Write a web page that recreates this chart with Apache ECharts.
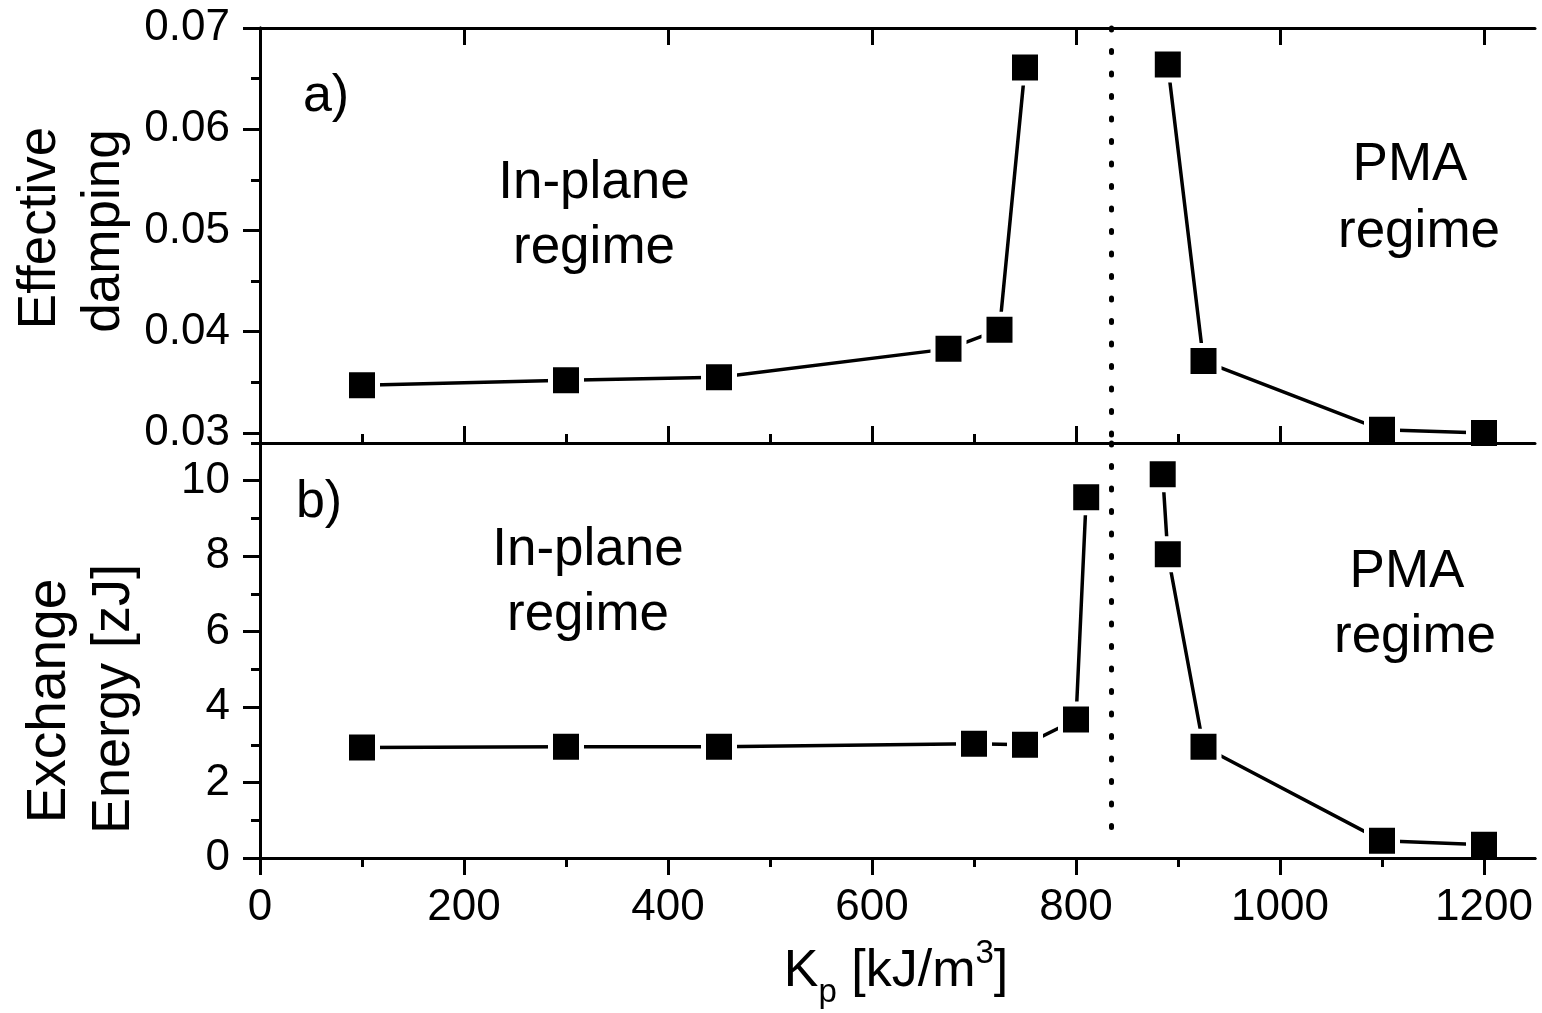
<!DOCTYPE html>
<html>
<head>
<meta charset="utf-8">
<script src="https://cdn.jsdelivr.net/npm/echarts@6/dist/echarts.min.js"></script>
<style>
  html, body { margin: 0; padding: 0; background: #fff; }
  #chart { width: 1542px; height: 1013px; }
</style>
</head>
<body>
<div id="chart"></div>
<script>
// ---- data ----
const kpDamping = [100, 300, 450, 675, 725, 750, 890, 925, 1100, 1200];
const damping   = [0.0347, 0.0352, 0.0355, 0.0383, 0.0402, 0.0661, 0.0664, 0.0371, 0.0303, 0.0300];
const kpEnergy  = [100, 300, 450, 700, 750, 800, 810, 885, 890, 925, 1100, 1200];
const energy    = [2.93, 2.95, 2.95, 3.03, 3.00, 3.67, 9.56, 10.17, 8.05, 2.95, 0.46, 0.35];
const transitionKp = 835;

const xMajorTicks = [0, 200, 400, 600, 800, 1000, 1200];
const xMinorTicks = [100, 300, 500, 700, 900, 1100];
const dampTicks   = [0.03, 0.04, 0.05, 0.06, 0.07];
const dampMinor   = [0.035, 0.045, 0.055, 0.065];
const energyTicks = [0, 2, 4, 6, 8, 10];
const energyMinor = [1, 3, 5, 7, 9, 11];

const FONT = '"Liberation Sans", Arial, sans-serif';

function pairs(xs, ys, left) {
  const out = [];
  xs.forEach((x, i) => {
    if ((x < transitionKp) === left) out.push([x, ys[i]]);
  });
  return out;
}

const LW = 3;
const lineStyleAxis = { color: '#000', width: LW };

function xAxisDef(grid, pos, ticks, inside, len, showLine, labels) {
  return {
    type: 'value', gridIndex: grid, position: pos, min: 0, max: 1250, z: 10,
    axisLine: { show: showLine, lineStyle: lineStyleAxis },
    axisTick: { show: true, inside: inside, length: len, lineStyle: lineStyleAxis, customValues: ticks },
    axisLabel: labels ? {
      show: true, customValues: ticks, margin: 28, color: '#000',
      fontFamily: FONT, fontSize: 44, formatter: v => String(v)
    } : { show: false },
    splitLine: { show: false }
  };
}
function yAxisDef(grid, pos, min, max, ticks, inside, len, showLine, labels, fmt) {
  return {
    type: 'value', gridIndex: grid, position: pos, min: min, max: max, z: 10,
    axisLine: { show: showLine, lineStyle: lineStyleAxis },
    axisTick: { show: true, inside: inside, length: len, lineStyle: lineStyleAxis, customValues: ticks },
    axisLabel: labels ? {
      show: true, customValues: ticks, margin: 30, color: '#000',
      fontFamily: FONT, fontSize: 44, formatter: fmt
    } : { show: false },
    splitLine: { show: false }
  };
}

const markerStyle = {
  type: 'line', symbol: 'rect', symbolSize: 31,
  itemStyle: { color: '#000', borderColor: '#fff', borderWidth: 5 },
  lineStyle: { color: '#000', width: 3.5 },
  emphasis: { disabled: true }, z: 3
};

function dotted(yTop, yBottom) {
  return {
    silent: true, symbol: ['none', 'none'], label: { show: false },
    lineStyle: { color: '#000', width: 5, type: [2, 20.5], cap: 'round' },
    data: [[{ coord: [transitionKp, yTop] }, { coord: [transitionKp, yBottom] }]]
  };
}

function txt(x, y, text, size, extra) {
  return Object.assign({
    type: 'text', x: x, y: y, z: 50,
    style: { text: text, fill: '#000', font: size + 'px ' + FONT, align: 'center', verticalAlign: 'middle' }
  }, extra || {});
}

const chart = echarts.init(document.getElementById('chart'), null, { renderer: 'canvas' });
chart.setOption({
  animation: false,
  backgroundColor: '#fff',
  grid: [
    { left: 260, right: 7, top: 28, height: 415 },
    { left: 260, right: 7, top: 443, height: 415 }
  ],
  xAxis: [
    xAxisDef(0, 'bottom', xMajorTicks, true, 17, true, false),
    xAxisDef(0, 'bottom', xMinorTicks, true, 9, false, false),
    xAxisDef(0, 'top', xMajorTicks, true, 17, true, false),
    xAxisDef(1, 'bottom', xMajorTicks, false, 17, true, true),
    xAxisDef(1, 'bottom', xMinorTicks, false, 9, false, false),
    xAxisDef(1, 'top', xMajorTicks, true, 17, true, false)
  ],
  yAxis: [
    yAxisDef(0, 'left', 0.029, 0.07, dampTicks, false, 17, true, true, v => v.toFixed(2)),
    yAxisDef(0, 'left', 0.029, 0.07, dampMinor, false, 9, false, false),
    yAxisDef(0, 'right', 0.029, 0.07, dampTicks, true, 17, true, false),
    yAxisDef(1, 'left', 0, 11, energyTicks, false, 17, true, true, v => String(Math.round(v))),
    yAxisDef(1, 'left', 0, 11, energyMinor, false, 9, false, false),
    yAxisDef(1, 'right', 0, 11, energyTicks, true, 17, true, false)
  ],
  series: [
    Object.assign({}, markerStyle, { xAxisIndex: 0, yAxisIndex: 0, data: pairs(kpDamping, damping, true),
      markLine: dotted(0.07, 0.029) }),
    Object.assign({}, markerStyle, { xAxisIndex: 0, yAxisIndex: 0, data: pairs(kpDamping, damping, false) }),
    Object.assign({}, markerStyle, { xAxisIndex: 3, yAxisIndex: 3, data: pairs(kpEnergy, energy, true),
      markLine: dotted(11, 0.5) }),
    Object.assign({}, markerStyle, { xAxisIndex: 3, yAxisIndex: 3, data: pairs(kpEnergy, energy, false) })
  ],
  graphic: [
    txt(326, 97, 'a)', 52),
    txt(594, 183, 'In-plane', 53),
    txt(594, 248, 'regime', 53),
    txt(1410, 165, 'PMA', 53),
    txt(1419, 232, 'regime', 53),
    txt(319, 503, 'b)', 52),
    txt(588, 550, 'In-plane', 53),
    txt(588, 615, 'regime', 53),
    txt(1407, 572, 'PMA', 53),
    txt(1415, 637, 'regime', 53),
    txt(40, 228, 'Effective', 53, { rotation: Math.PI / 2 }),
    txt(104, 231, 'damping', 53, { rotation: Math.PI / 2 }),
    txt(50, 701, 'Exchange', 55, { rotation: Math.PI / 2 }),
    txt(114, 699, 'Energy [zJ]', 54, { rotation: Math.PI / 2 }),
    {
      type: 'text', x: 896, y: 972, z: 50,
      style: {
        text: '{k|K}{sub|p}{k| [kJ/m}{sup|3}{k|]}',
        align: 'center', verticalAlign: 'middle', fill: '#000',
        rich: {
          k: { font: '52px ' + FONT, fill: '#000', verticalAlign: 'middle' },
          sub: { font: '33px ' + FONT, fill: '#000', padding: [42, 0, 0, 0] },
          sup: { font: '33px ' + FONT, fill: '#000', padding: [0, 0, 36, 0] }
        }
      }
    }
  ]
});
</script>
</body>
</html>
